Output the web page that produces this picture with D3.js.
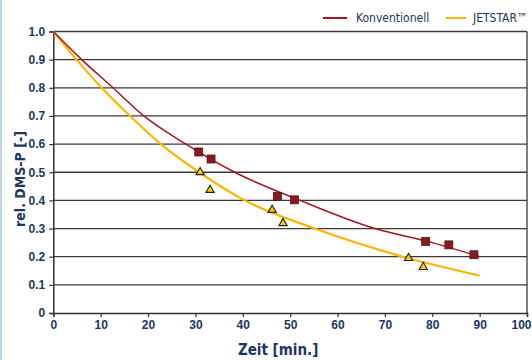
<!DOCTYPE html>
<html>
<head>
<meta charset="utf-8">
<script src="https://cdn.jsdelivr.net/npm/d3@7"></script>
<style>
  body { margin: 0; background: #fff; }
  svg { display: block; }
</style>
</head>
<body>
<div id="chart"></div>
<script>
// data (curve points)
var konvCurveTime = [0, 6, 12.6, 19.1, 28, 38.3, 52.1, 67.9, 80, 90];
var konvCurveValue = [1.0, 0.9, 0.8, 0.7, 0.6, 0.5, 0.4, 0.3, 0.25, 0.20];
var jetCurveTime = [0, 4.9, 10.2, 16.2, 22.7, 30.8, 40.4, 55.2, 73.8, 90];
var jetCurveValue = [1.0, 0.9, 0.8, 0.7, 0.6, 0.5, 0.4, 0.3, 0.2, 0.133];

var konvTime = [30.7, 33.3, 47.3, 50.9, 78.6, 83.5, 88.8];
var konvValue = [0.572, 0.547, 0.414, 0.402, 0.254, 0.242, 0.207];
var jetTime = [31.0, 33.1, 46.2, 48.5, 75.0, 78.1];
var jetValue = [0.50, 0.437, 0.366, 0.319, 0.195, 0.163];

var xTicks = [0, 10, 20, 30, 40, 50, 60, 70, 80, 90, 100];
var yTicks = [0, 0.1, 0.2, 0.3, 0.4, 0.5, 0.6, 0.7, 0.8, 0.9, 1.0];

var W = 532, H = 360;
var MARGIN = { top: 31.5, right: 5, bottom: 47, left: 53.3 };
var WIDTH = W - MARGIN.left - MARGIN.right;
var HEIGHT = H - MARGIN.top - MARGIN.bottom;

var RED = '#a3161f';
var YEL = '#ffb400';
var NAVY = '#1d3660';
var FONT = '"Liberation Sans Narrow", "DejaVu Sans Condensed", sans-serif';

var root = d3.select('#chart').append('svg')
  .attr('width', W)
  .attr('height', H);

// light blue left edge
root.append('rect')
  .attr('x', 0).attr('y', 0)
  .attr('width', 2).attr('height', H)
  .attr('fill', '#bcd6ea');

var svg = root.append('g')
  .attr('transform', 'translate(' + MARGIN.left + ',' + MARGIN.top + ')');

var x = d3.scaleLinear().domain([0, 100]).range([0, WIDTH]);
var y = d3.scaleLinear().domain([0, 1]).range([HEIGHT, 0]);

// gridlines
svg.append('g')
  .selectAll('line')
  .data(yTicks.filter(function (d) { return d > 0; }))
  .enter()
  .append('line')
  .attr('x1', 0)
  .attr('x2', WIDTH)
  .attr('y1', function (d) { return y(d); })
  .attr('y2', function (d) { return y(d); })
  .attr('stroke', '#3a3a3a')
  .attr('stroke-width', 1.3);

// right frame
svg.append('line')
  .attr('x1', WIDTH).attr('x2', WIDTH)
  .attr('y1', y(1)).attr('y2', HEIGHT)
  .attr('stroke', '#3a3a3a')
  .attr('stroke-width', 1.3);

// axes
var xAxis = d3.axisBottom(x).tickValues(xTicks).tickSize(4).tickPadding(3)
  .tickFormat(d3.format('d'));
var yAxis = d3.axisLeft(y).tickValues(yTicks).tickSize(4).tickPadding(4)
  .tickFormat(function (d) { return d === 0 ? '0' : d3.format('.1f')(d); });

var gx = svg.append('g')
  .attr('transform', 'translate(0,' + HEIGHT + ')')
  .call(xAxis);
var gy = svg.append('g').call(yAxis);

[gx, gy].forEach(function (g) {
  g.select('.domain').attr('stroke', '#333').attr('stroke-width', 1.5);
  g.selectAll('.tick line').attr('stroke', '#333').attr('stroke-width', 1.2);
  g.selectAll('.tick text')
    .attr('fill', NAVY)
    .style('font-family', '"Liberation Sans", Arial, sans-serif')
    .style('font-weight', 'bold')
    .style('font-size', '12px');
});
// keep "100" inside the window
gx.selectAll('.tick text').filter(function (d) { return d === 100; }).attr('dx', -6);

// curves
var line = d3.line()
  .x(function (d) { return x(d[0]); })
  .y(function (d) { return y(d[1]); })
  .curve(d3.curveMonotoneX);

svg.append('path')
  .datum(jetCurveTime.map(function (t, i) { return [t, jetCurveValue[i]]; }))
  .attr('d', line)
  .attr('fill', 'none')
  .attr('stroke', YEL)
  .attr('stroke-width', 2.2);

svg.append('path')
  .datum(konvCurveTime.map(function (t, i) { return [t, konvCurveValue[i]]; }))
  .attr('d', line)
  .attr('fill', 'none')
  .attr('stroke', RED)
  .attr('stroke-width', 1.5);

// markers
svg.selectAll('.sq')
  .data(konvTime.map(function (t, i) { return [t, konvValue[i]]; }))
  .enter()
  .append('rect')
  .attr('class', 'sq')
  .attr('x', function (d) { return x(d[0]) - 4; })
  .attr('y', function (d) { return y(d[1]) - 4; })
  .attr('width', 8)
  .attr('height', 8)
  .attr('fill', '#8a1a1e')
  .attr('stroke', '#4a1a1a')
  .attr('stroke-width', 0.8);

var tri = d3.symbol().type(d3.symbolTriangle).size(30);
svg.selectAll('.tri')
  .data(jetTime.map(function (t, i) { return [t, jetValue[i]]; }))
  .enter()
  .append('path')
  .attr('class', 'tri')
  .attr('d', tri)
  .attr('transform', function (d) { return 'translate(' + x(d[0]) + ',' + y(d[1]) + ')'; })
  .attr('fill', '#ffcc00')
  .attr('stroke', '#222')
  .attr('stroke-width', 1.1);

// axis titles
root.append('text')
  .attr('x', MARGIN.left + WIDTH / 2 - 12)
  .attr('y', 355)
  .attr('text-anchor', 'middle')
  .attr('fill', NAVY)
  .style('font-family', FONT)
  .style('font-weight', 'bold')
  .style('font-size', '15px')
  .text('Zeit [min.]');

root.append('text')
  .attr('transform', 'translate(25,' + 179 + ') rotate(-90)')
  .attr('text-anchor', 'middle')
  .attr('fill', NAVY)
  .style('font-family', FONT)
  .style('font-weight', 'bold')
  .style('font-size', '14px')
  .text('rel. DMS-P [-]');

// legend
var legend = [
  { name: 'Konventionell', color: RED, x1: 323, x2: 347, tx: 356 },
  { name: 'JETSTAR\u2122', color: YEL, x1: 446, x2: 466, tx: 473 }
];
legend.forEach(function (l) {
  root.append('line')
    .attr('x1', l.x1).attr('x2', l.x2)
    .attr('y1', 18).attr('y2', 18)
    .attr('stroke', l.color)
    .attr('stroke-width', 2);
  root.append('text')
    .attr('x', l.tx)
    .attr('y', 22)
    .attr('fill', NAVY)
    .style('font-family', FONT)
    .style('font-size', '12px')
    .text(l.name);
});
</script>
</body>
</html>
